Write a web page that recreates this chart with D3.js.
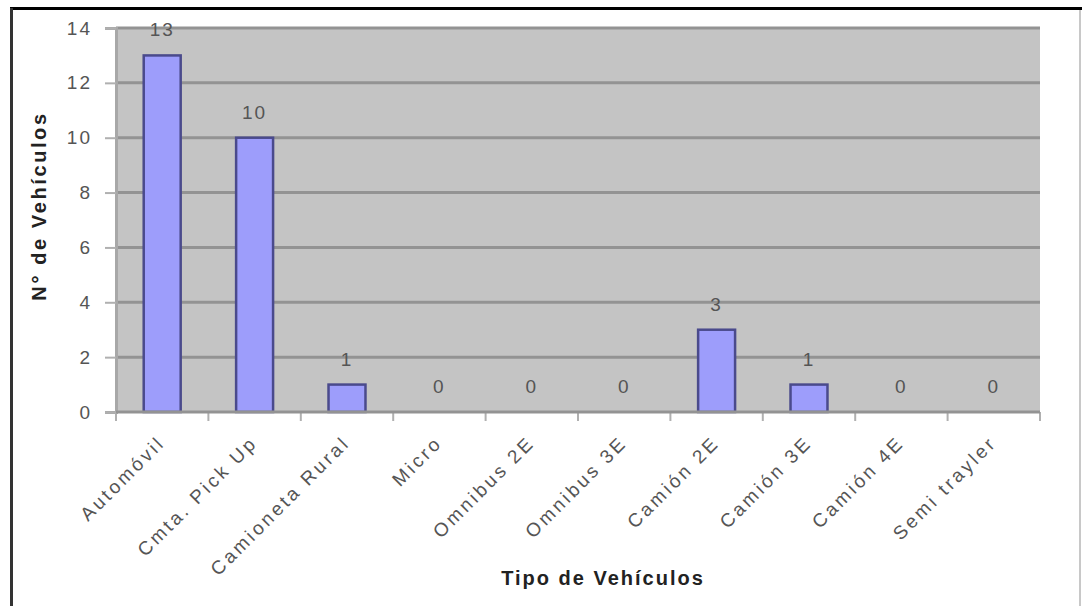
<!DOCTYPE html>
<html>
<head>
<meta charset="utf-8">
<script src="https://cdn.jsdelivr.net/npm/d3@7"></script>
<style>
  body { margin: 0; background: #fff; }
  text { font-family: Arial, "Liberation Sans", sans-serif; }
</style>
</head>
<body>
<svg id="chart" width="1082" height="606"></svg>
<script>
const categories = ['Automóvil', 'Cmta. Pick Up', 'Camioneta Rural', 'Micro', 'Omnibus 2E',
  'Omnibus 3E', 'Camión 2E', 'Camión 3E', 'Camión 4E', 'Semi trayler'];
const counts = [13, 10, 1, 0, 0, 0, 3, 1, 0, 0];
const yTicks = [0, 2, 4, 6, 8, 10, 12, 14];
const xTitle = 'Tipo de Vehículos';
const yTitle = 'N° de Vehículos';

const svg = d3.select('#chart');
const width = +svg.attr('width');
const height = +svg.attr('height');
const margin = {top: 28, right: 42, bottom: 194, left: 116};
const innerWidth = width - margin.left - margin.right;
const innerHeight = height - margin.top - margin.bottom;

const data = categories.map((c, i) => ({cat: c, value: counts[i]}));

// chart frame
svg.append('line').attr('x1', 10).attr('x2', width).attr('y1', 8.5).attr('y2', 8.5)
  .attr('stroke', '#000').attr('stroke-width', 3);
svg.append('line').attr('x1', 11.5).attr('x2', 11.5).attr('y1', 8).attr('y2', height)
  .attr('stroke', '#333').attr('stroke-width', 3);
svg.append('line').attr('x1', 1080).attr('x2', 1080).attr('y1', 10).attr('y2', height)
  .attr('stroke', '#c8c8c8').attr('stroke-width', 2);

const g = svg.append('g')
  .attr('transform', `translate(${margin.left}, ${margin.top})`);

const xScale = d3.scaleBand()
  .domain(categories)
  .range([0, innerWidth])
  .paddingInner(0.6)
  .paddingOuter(0.3);
const yScale = d3.scaleLinear().domain([0, 14]).range([innerHeight, 0]);

// plot area
g.append('rect')
  .attr('width', innerWidth).attr('height', innerHeight)
  .attr('fill', '#c4c4c4');

// gridlines
g.selectAll('.grid').data(yTicks.filter(t => t > 0)).enter().append('line')
  .attr('class', 'grid')
  .attr('x1', 0).attr('x2', innerWidth)
  .attr('y1', d => yScale(d)).attr('y2', d => yScale(d))
  .attr('stroke', '#939393').attr('stroke-width', 3);

// y axis
const yAxisG = g.append('g')
  .call(d3.axisLeft(yScale).tickValues(yTicks).tickSize(11).tickPadding(13));
yAxisG.select('.domain').attr('stroke', '#a8a8a8').attr('stroke-width', 3);
yAxisG.selectAll('.tick line').attr('stroke', '#b0b0b0').attr('stroke-width', 2);
yAxisG.selectAll('.tick text')
  .attr('fill', '#555').style('font-size', '19px').style('letter-spacing', '2px');

// bars
g.selectAll('.bar').data(data).enter().append('rect')
  .attr('class', 'bar')
  .attr('x', d => xScale(d.cat))
  .attr('y', d => yScale(d.value))
  .attr('width', xScale.bandwidth())
  .attr('height', d => innerHeight - yScale(d.value))
  .attr('fill', '#9d9dfb')
  .attr('stroke', '#4a4a8c')
  .attr('stroke-width', 2.5)
  .style('display', d => d.value > 0 ? null : 'none');

// x axis line and category boundary ticks
const step = xScale.step();
const bounds = categories.map(c => xScale(c) - step * xScale.paddingOuter()).concat([innerWidth]);
g.selectAll('.xtick').data(bounds).enter().append('line')
  .attr('class', 'xtick')
  .attr('x1', d => d).attr('x2', d => d)
  .attr('y1', innerHeight).attr('y2', innerHeight + 9)
  .attr('stroke', '#b0b0b0').attr('stroke-width', 2);
g.append('line')
  .attr('x1', 0).attr('x2', innerWidth)
  .attr('y1', innerHeight).attr('y2', innerHeight)
  .attr('stroke', '#939393').attr('stroke-width', 3);

// data labels
g.selectAll('.lbl').data(data).enter().append('text')
  .attr('class', 'lbl')
  .attr('x', d => xScale(d.cat) + xScale.bandwidth() / 2)
  .attr('y', d => yScale(d.value) - 19)
  .attr('text-anchor', 'middle')
  .attr('fill', '#555')
  .style('font-size', '19px')
  .style('letter-spacing', '2px')
  .text(d => d.value);

// category labels
g.selectAll('.cat').data(categories).enter().append('text')
  .attr('class', 'cat')
  .attr('transform', d => `translate(${xScale(d) + xScale.bandwidth() / 2 + 4}, ${innerHeight + 32}) rotate(-45)`)
  .attr('text-anchor', 'end')
  .attr('fill', '#555')
  .style('font-size', '19px')
  .style('letter-spacing', '3px')
  .text(d => d);

// axis titles
svg.append('text')
  .attr('x', margin.left + innerWidth / 2 + 25)
  .attr('y', 585)
  .attr('text-anchor', 'middle')
  .attr('fill', '#222')
  .style('font-size', '20px')
  .style('font-weight', 'bold')
  .style('letter-spacing', '2px')
  .text(xTitle);

svg.append('text')
  .attr('transform', `translate(46, 206) rotate(-90)`)
  .attr('text-anchor', 'middle')
  .attr('fill', '#222')
  .style('font-size', '20px')
  .style('font-weight', 'bold')
  .style('letter-spacing', '2.6px')
  .text(yTitle);
</script>
</body>
</html>
